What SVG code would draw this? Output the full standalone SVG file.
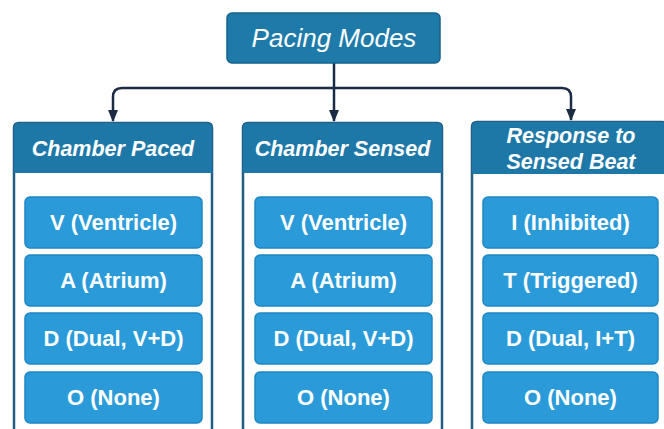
<svg xmlns="http://www.w3.org/2000/svg" width="664" height="429" viewBox="0 0 664 429">
<defs>
<style>
.root{fill:#1e7aa9;stroke:#16628c;stroke-width:1.5}
.panel{fill:#ffffff;stroke:#235d85;stroke-width:2.5}
.head{fill:#1e78a7}
.item{fill:#2a9bd8;stroke:#1e86c2;stroke-width:1.5}
.t-root{font-family:"Liberation Sans",Arial,sans-serif;font-style:italic;font-size:26px;fill:#fff;text-anchor:middle}
.t-head{font-family:"Liberation Sans",Arial,sans-serif;font-style:italic;font-weight:bold;font-size:21.5px;fill:#fff;text-anchor:middle}
.t-item{font-family:"Liberation Sans",Arial,sans-serif;font-weight:bold;font-size:22px;fill:#fff;text-anchor:middle}
.conn{fill:none;stroke:#1b2b44;stroke-width:2.5}
</style>
<marker id="arr" viewBox="0 0 12 10" refX="11" refY="5" markerWidth="4.8" markerHeight="4" orient="auto" markerUnits="strokeWidth">
<path d="M0,0 L12,5 L0,10 z" fill="#1b2b44"/>
</marker>
</defs>
<rect width="664" height="429" fill="#ffffff"/>

<g id="connectors">
<path class="conn" d="M334,63 V88"/>
<path class="conn" d="M334,88 H122 Q113,88 113,97 V121" marker-end="url(#arr)"/>
<path class="conn" d="M334,88 V121" marker-end="url(#arr)"/>
<path class="conn" d="M334,88 H562 Q571,88 571,97 V120" marker-end="url(#arr)"/>
</g>

<g id="pacing-modes">
<rect class="root" x="227" y="13" width="213" height="50" rx="5"/>
<text class="t-root" x="334" y="47">Pacing Modes</text>
</g>

<g id="chamber-paced">
<path class="panel" d="M14,440 V128 Q14,123 19,123 H207 Q212,123 212,128 V440"/>
<path class="head" d="M14,173 V128 Q14,123 19,123 H207 Q212,123 212,128 V173 Z"/>
<text class="t-head" x="113" y="156">Chamber Paced</text>
</g>
<g id="cp-v"><rect class="item" x="25" y="197" width="177" height="51" rx="5"/><text class="t-item" x="113.5" y="230">V (Ventricle)</text></g>
<g id="cp-a"><rect class="item" x="25" y="255" width="177" height="51" rx="5"/><text class="t-item" x="113.5" y="288">A (Atrium)</text></g>
<g id="cp-d"><rect class="item" x="25" y="313" width="177" height="51" rx="5"/><text class="t-item" x="113.5" y="346">D (Dual, V+D)</text></g>
<g id="cp-o"><rect class="item" x="25" y="372" width="177" height="51" rx="5"/><text class="t-item" x="113.5" y="405">O (None)</text></g>

<g id="chamber-sensed">
<path class="panel" d="M243,440 V128 Q243,123 248,123 H437 Q442,123 442,128 V440"/>
<path class="head" d="M243,173 V128 Q243,123 248,123 H437 Q442,123 442,128 V173 Z"/>
<text class="t-head" x="342.5" y="156">Chamber Sensed</text>
</g>
<g id="cs-v"><rect class="item" x="255" y="197" width="177" height="51" rx="5"/><text class="t-item" x="343.5" y="230">V (Ventricle)</text></g>
<g id="cs-a"><rect class="item" x="255" y="255" width="177" height="51" rx="5"/><text class="t-item" x="343.5" y="288">A (Atrium)</text></g>
<g id="cs-d"><rect class="item" x="255" y="313" width="177" height="51" rx="5"/><text class="t-item" x="343.5" y="346">D (Dual, V+D)</text></g>
<g id="cs-o"><rect class="item" x="255" y="372" width="177" height="51" rx="5"/><text class="t-item" x="343.5" y="405">O (None)</text></g>

<g id="response">
<path class="panel" d="M472,440 V127 Q472,122 477,122 H662 Q667,122 667,127 V440"/>
<path class="head" d="M472,174 V127 Q472,122 477,122 H662 Q667,122 667,127 V174 Z"/>
<text class="t-head" x="571" y="143">Response to</text>
<text class="t-head" x="571" y="169">Sensed Beat</text>
</g>
<g id="r-i"><rect class="item" x="483" y="197" width="175" height="51" rx="5"/><text class="t-item" x="570.5" y="230">I (Inhibited)</text></g>
<g id="r-t"><rect class="item" x="483" y="255" width="175" height="51" rx="5"/><text class="t-item" x="570.5" y="288">T (Triggered)</text></g>
<g id="r-d"><rect class="item" x="483" y="313" width="175" height="51" rx="5"/><text class="t-item" x="570.5" y="346">D (Dual, I+T)</text></g>
<g id="r-o"><rect class="item" x="483" y="372" width="175" height="51" rx="5"/><text class="t-item" x="570.5" y="405">O (None)</text></g>
</svg>
